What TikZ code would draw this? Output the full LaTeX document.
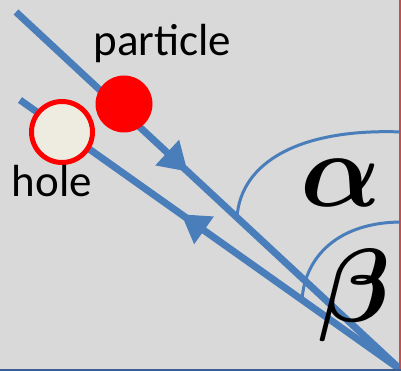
\documentclass[tikz,border=0pt]{standalone}
\usepackage{fontspec}
\setmainfont{Carlito}
\usetikzlibrary{arrows.meta,decorations.markings}
\definecolor{bg}{HTML}{D9D9D9}
\definecolor{lineblue}{HTML}{4A7EBB}
\definecolor{edgeblue}{HTML}{3A5D96}
\definecolor{edgered}{HTML}{C0504D}
\definecolor{holefill}{HTML}{EEECE1}
\definecolor{pred}{HTML}{FF0000}
\begin{document}
\begin{tikzpicture}[x=1pt,y=-1pt,
  track/.style={draw=lineblue, line width=7pt},
  anglearc/.style={draw=lineblue, line width=3pt},
  txt/.style={font=\fontsize{45}{45}\selectfont, inner sep=0pt, anchor=base},
  greek/.style={inner sep=0pt, anchor=base},
  fwdarrow/.style={postaction={decorate}, decoration={markings,
     mark=at position #1 with {\arrow{Triangle[length=28pt,width=33pt]}}}},
  backarrow/.style={postaction={decorate}, decoration={markings,
     mark=at position #1 with {\arrowreversed{Triangle[length=28pt,width=32pt]}}}}]
\fill[bg] (0,0) rectangle (401,371);
\useasboundingbox (0,0) rectangle (401,371);
\begin{scope}
\clip (0,0) rectangle (401,371);
% coordinates
\coordinate (P0) at (16,12);
\coordinate (H0) at (20,100);
\coordinate (O) at (401,370);
\coordinate (A0) at (237,217);
\coordinate (A1) at (402,132);
\coordinate (B0) at (302,300);
\coordinate (B1) at (402,222);
% angle arcs
\draw[anglearc] (A0) .. controls (241,162) and (300,128) .. (A1);
\draw[anglearc] (B0) .. controls (305,255) and (340,222) .. (B1);
% tracks
\draw[track, fwdarrow=0.446] (P0) -- (O);
\draw[track, backarrow=0.423] (H0) -- (O);
% particle and hole
\node[circle, fill=pred, minimum size=57pt, inner sep=0pt] (particle) at (124,104) {};
\node[circle, draw=pred, fill=holefill, line width=5pt, minimum size=61pt, inner sep=0pt] (hole) at (62,132) {};
% labels
\node[txt] (plabel) at (162.5,56) {particle};
\node[txt] (hlabel) at (52,197) {hole};
\node[greek] (alpha) at (341,207) {\scalebox{10.6}{\boldmath$\alpha$}};
\node[greek] (beta) at (355,321) {\scalebox{10.4}{\boldmath$\beta$}};
% frame edges
\draw[edgered, line width=2pt] (400,0) -- (400,371);
\draw[edgeblue, line width=2.5pt] (0,369.75) -- (401,369.75);
\end{scope}
\end{tikzpicture}
\end{document}
